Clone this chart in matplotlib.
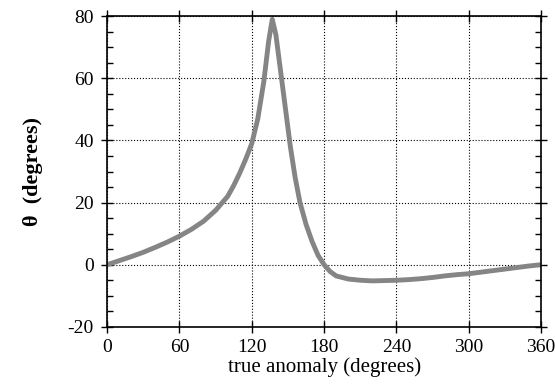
import numpy as np
import matplotlib.pyplot as plt
from matplotlib.ticker import MultipleLocator

# valores
anomalia = [0, 10, 20, 30, 40, 50, 60, 70, 80, 90, 100, 105, 110, 115, 120, 125, 130,
            134, 137, 140, 144, 148, 152, 156, 160, 165, 170, 175, 180, 185, 190,
            200, 210, 220, 230, 240, 250, 260, 270, 280, 290, 300, 310, 320, 330,
            340, 350, 360]
theta = [0, 1.3, 2.6, 4.0, 5.6, 7.3, 9.2, 11.4, 14.0, 17.5, 22.0, 25.5, 29.5, 34.0,
         39.0, 47.0, 59.0, 72.0, 79.0, 74.0, 62.0, 50.0, 38.0, 28.0, 20.0, 13.0,
         7.5, 3.0, 0.0, -2.2, -3.6, -4.6, -5.0, -5.2, -5.1, -5.0, -4.8, -4.5,
         -4.1, -3.6, -3.2, -2.9, -2.4, -1.9, -1.4, -0.9, -0.4, 0.0]

plt.rcParams['font.family'] = ['Liberation Serif', 'DejaVu Serif']
plt.rcParams['axes.unicode_minus'] = False

fig = plt.figure(figsize=(5.55, 3.85), dpi=100)
ax = fig.add_axes([0.193, 0.151, 0.782, 0.807])

ax.plot(anomalia, theta, color='#858585', linewidth=3.5, solid_capstyle='round')

ax.set_xlim(0, 360)
ax.set_ylim(-20, 80)
ax.set_xticks([0, 60, 120, 180, 240, 300, 360])
ax.set_yticks([-20, 0, 20, 40, 60, 80])
ax.yaxis.set_minor_locator(MultipleLocator(5))

ax.grid(True, which='major', color='black', linestyle=':', linewidth=0.8)
ax.tick_params(which='major', direction='inout', length=9, width=1,
               top=True, right=True, labelsize=14, colors='black')
ax.tick_params(axis='x', which='major', pad=4)
ax.tick_params(axis='y', which='major', pad=5)
ax.tick_params(which='minor', direction='in', length=4, width=1, left=True, right=True)
for s in ax.spines.values():
    s.set_linewidth(1.2)

ax.set_xlabel('true anomaly (degrees)', fontsize=15, labelpad=1)
ax.set_ylabel('θ  (degrees)', fontsize=16, fontweight='bold', labelpad=18)

fig.savefig('out.png', dpi=100)
